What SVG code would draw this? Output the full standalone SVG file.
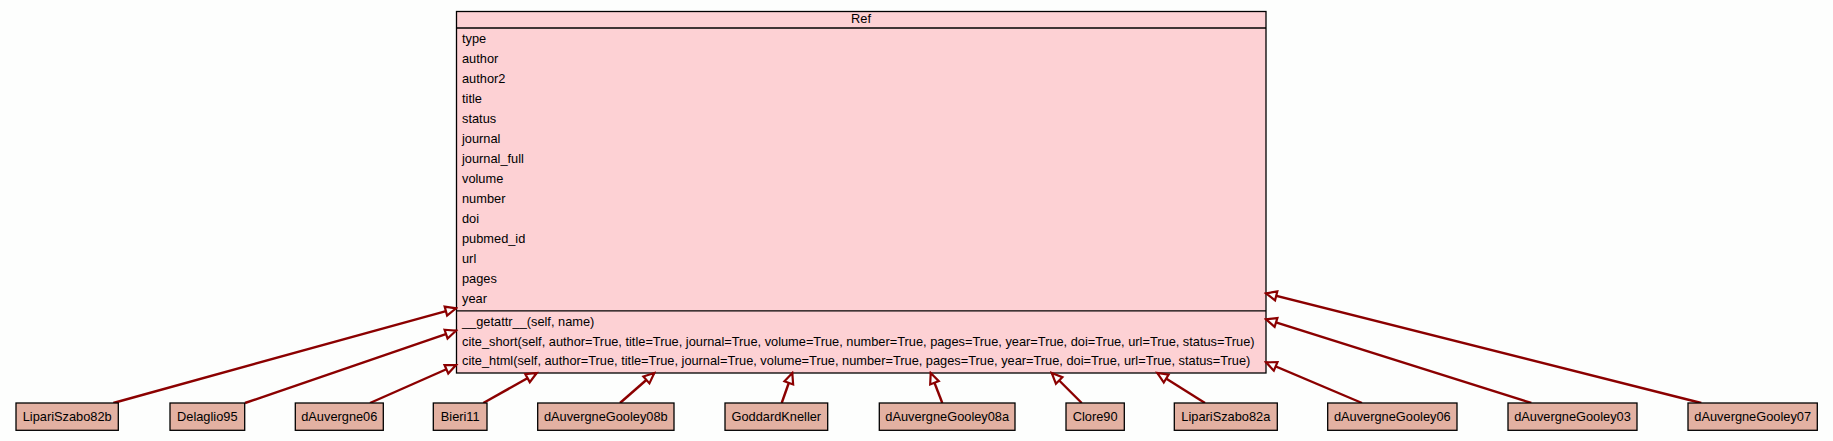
<svg xmlns="http://www.w3.org/2000/svg" width="1833" height="441" viewBox="0 0 1833 441">
<style>
  text { font-family: "Liberation Sans", Arial, sans-serif; font-size: 12.8px; fill: #000; }
  .cls { fill: #fdd1d4; stroke: #000; stroke-width: 1.3; }
  .sep { stroke: #000; stroke-width: 1.3; }
  .node rect { fill: #e3b1a2; stroke: #000; stroke-width: 1.3; }
  .node text { text-anchor: middle; }
  .edge { fill: none; stroke: #8b0000; stroke-width: 2.4; marker-end: url(#tri); }
</style>
<defs>
  <marker id="tri" markerUnits="userSpaceOnUse" viewBox="-2 -7 15 14" refX="10.5" refY="0" markerWidth="15" markerHeight="14" orient="auto">
    <path d="M0,-4.6 L10.5,0 L0,4.6 Z" fill="#fdfefd" stroke="#8b0000" stroke-width="2.2"/>
  </marker>
</defs>
<rect x="0" y="0" width="1833" height="441" fill="#fdfefd"/>

<g id="Ref">
  <rect class="cls" x="456.5" y="11.5" width="809.5" height="361.5"/>
  <line class="sep" x1="456.5" y1="28" x2="1266" y2="28"/>
  <line class="sep" x1="456.5" y1="310.8" x2="1266" y2="310.8"/>
  <text x="861" y="23" text-anchor="middle">Ref</text>
  <text x="462" y="43">type</text>
  <text x="462" y="63">author</text>
  <text x="462" y="83">author2</text>
  <text x="462" y="103">title</text>
  <text x="462" y="123">status</text>
  <text x="462" y="143">journal</text>
  <text x="462" y="163">journal_full</text>
  <text x="462" y="183">volume</text>
  <text x="462" y="203">number</text>
  <text x="462" y="223">doi</text>
  <text x="462" y="243">pubmed_id</text>
  <text x="462" y="263">url</text>
  <text x="462" y="283">pages</text>
  <text x="462" y="303">year</text>
  <text x="462" y="325.5">__getattr__(self, name)</text>
  <text x="462" y="345.5">cite_short(self, author=True, title=True, journal=True, volume=True, number=True, pages=True, year=True, doi=True, url=True, status=True)</text>
  <text x="462" y="365">cite_html(self, author=True, title=True, journal=True, volume=True, number=True, pages=True, year=True, doi=True, url=True, status=True)</text>
</g>

<g id="connectors">
  <path class="edge" d="M113.3,403 L456,308.3"/>
  <path class="edge" d="M245,403 L456,330.7"/>
  <path class="edge" d="M370,403 L456,365"/>
  <path class="edge" d="M483.3,403 L536.7,373"/>
  <path class="edge" d="M620,403 L654.3,373"/>
  <path class="edge" d="M781.7,403 L792.3,373"/>
  <path class="edge" d="M942.3,403 L930.7,373"/>
  <path class="edge" d="M1081.7,403 L1051.7,373"/>
  <path class="edge" d="M1205,403 L1157.3,373"/>
  <path class="edge" d="M1362,403 L1266,362.3"/>
  <path class="edge" d="M1531.3,403 L1266,319.3"/>
  <path class="edge" d="M1701.3,403 L1266,293.3"/>
</g>

<g id="LipariSzabo82b" class="node"><rect x="16" y="403" width="102.3" height="27.3"/><text x="67.2" y="421">LipariSzabo82b</text></g>
<g id="Delaglio95" class="node"><rect x="170" y="403" width="74.7" height="27.3"/><text x="207.3" y="421">Delaglio95</text></g>
<g id="dAuvergne06" class="node"><rect x="295.3" y="403" width="88" height="27.3"/><text x="339.3" y="421">dAuvergne06</text></g>
<g id="Bieri11" class="node"><rect x="433.3" y="403" width="53.7" height="27.3"/><text x="460.2" y="421">Bieri11</text></g>
<g id="dAuvergneGooley08b" class="node"><rect x="537.7" y="403" width="136.3" height="27.3"/><text x="605.8" y="421">dAuvergneGooley08b</text></g>
<g id="GoddardKneller" class="node"><rect x="725" y="403" width="102.7" height="27.3"/><text x="776.3" y="421">GoddardKneller</text></g>
<g id="dAuvergneGooley08a" class="node"><rect x="879.3" y="403" width="135.7" height="27.3"/><text x="947.2" y="421">dAuvergneGooley08a</text></g>
<g id="Clore90" class="node"><rect x="1066" y="403" width="58.3" height="27.3"/><text x="1095.2" y="421">Clore90</text></g>
<g id="LipariSzabo82a" class="node"><rect x="1174.3" y="403" width="103" height="27.3"/><text x="1225.8" y="421">LipariSzabo82a</text></g>
<g id="dAuvergneGooley06" class="node"><rect x="1327.7" y="403" width="129.3" height="27.3"/><text x="1392.3" y="421">dAuvergneGooley06</text></g>
<g id="dAuvergneGooley03" class="node"><rect x="1508" y="403" width="129" height="27.3"/><text x="1572.5" y="421">dAuvergneGooley03</text></g>
<g id="dAuvergneGooley07" class="node"><rect x="1688" y="403" width="129.3" height="27.3"/><text x="1752.7" y="421">dAuvergneGooley07</text></g>
</svg>
